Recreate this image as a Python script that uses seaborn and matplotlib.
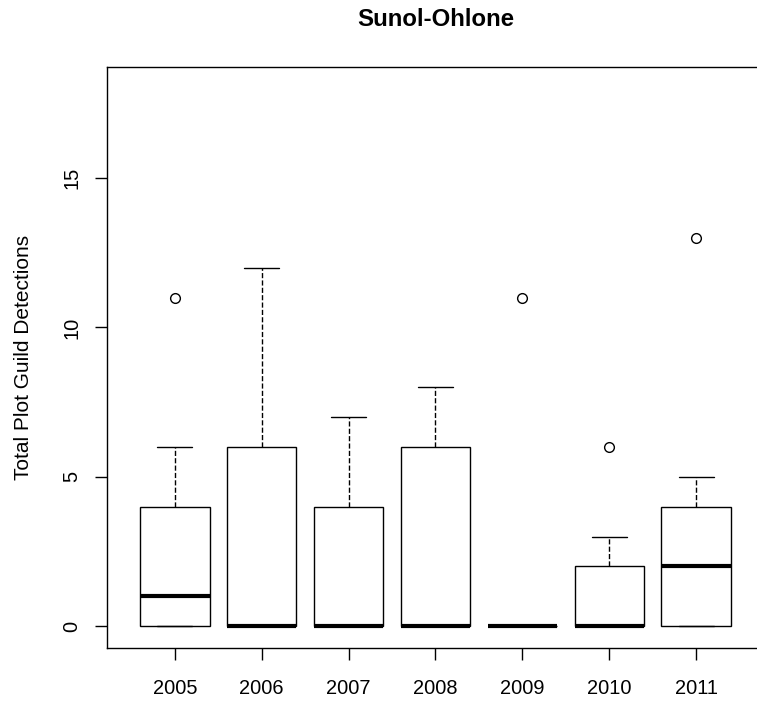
import pandas as pd
import matplotlib
matplotlib.use("Agg")
import matplotlib.pyplot as plt
import seaborn as sns

# --- DATA (plot-level detections per year) ---
years = ["2005", "2006", "2007", "2008", "2009", "2010", "2011"]
d2005 = [0, 0, 0, 1, 1, 2, 4, 6, 11]
d2006 = [0, 0, 0, 0, 0, 3, 6, 9, 12]
d2007 = [0, 0, 0, 0, 0, 2, 4, 5, 7]
d2008 = [0, 0, 0, 0, 0, 3, 6, 7, 8]
d2009 = [0, 0, 0, 0, 0, 0, 0, 0, 11]
d2010 = [0, 0, 0, 0, 0, 1, 2, 3, 6]
d2011 = [0, 0, 0, 1, 2, 3, 4, 5, 13]
yticks = [0, 5, 10, 15]

series = [d2005, d2006, d2007, d2008, d2009, d2010, d2011]
df = pd.DataFrame({
    "year": [y for y, vals in zip(years, series) for _ in vals],
    "detections": [v for vals in series for v in vals],
})

# --- STYLE ---
sns.set_style("white")
plt.rcParams["font.family"] = ["Liberation Sans", "DejaVu Sans"]
plt.rcParams["text.color"] = "black"
plt.rcParams["xtick.color"] = "black"
plt.rcParams["ytick.color"] = "black"

fig = plt.figure(figsize=(7.57, 7.02), dpi=100)
ax = fig.add_axes([107 / 757, 54.3 / 702, 657 / 757, 580.7 / 702])

sns.boxplot(data=df, x="year", y="detections", order=years, ax=ax,
            color="white", linecolor="black", linewidth=1, width=0.8,
            whis=1.5,
            whiskerprops=dict(linestyle="--", linewidth=1),
            capprops=dict(linewidth=1),
            medianprops=dict(linewidth=3, color="black"),
            flierprops=dict(marker="o", markerfacecolor="none",
                            markeredgecolor="black", markersize=7,
                            markeredgewidth=1))

ax.set_xlim(-0.78, 6.78)
ax.set_ylim(-0.72, 18.72)
ax.set_yticks(yticks)
ax.set_yticklabels([str(t) for t in yticks], rotation=90, va="center")
ax.tick_params(axis="both", which="both", direction="out", length=8.5,
               width=1, color="black", labelcolor="black", labelsize=14.4,
               left=True, bottom=True)
ax.tick_params(axis="x", pad=14)
ax.tick_params(axis="y", pad=10)

for s in ax.spines.values():
    s.set_color("black")
    s.set_linewidth(1)
    s.set_visible(True)

ax.set_xlabel("")
ax.set_ylabel("")
fig.text(24 / 757, 1 - 357 / 702, "Total Plot Guild Detections", rotation=90,
         ha="center", va="center", fontsize=15, color="black")
fig.text(435.5 / 757, 1 - 19 / 702, "Sunol-Ohlone", ha="center", va="center",
         fontsize=17.3, fontweight="bold", color="black")

fig.savefig("out.png", dpi=100)
